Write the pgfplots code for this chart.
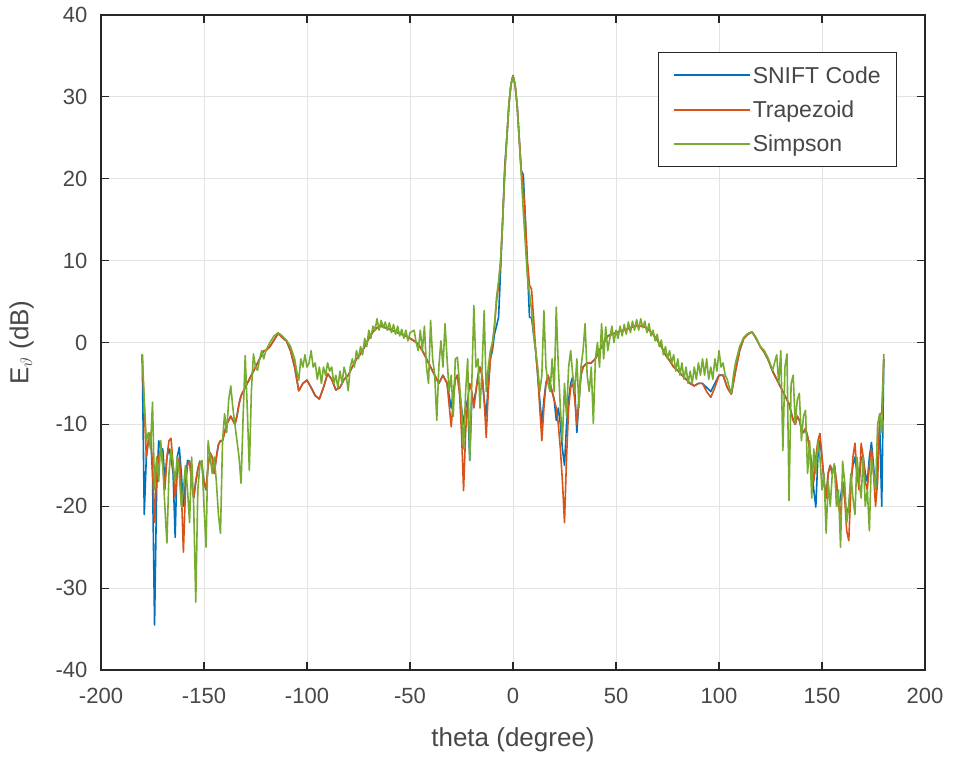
\documentclass[border=0pt]{standalone}
\usepackage{pgfplots}
\pgfplotsset{compat=1.18}
\usepackage{fontspec}
\setmainfont{Liberation Sans}
\definecolor{mblue}{rgb}{0,0.447,0.741}
\definecolor{morange}{rgb}{0.85,0.325,0.098}
\definecolor{mgreen}{rgb}{0.466,0.674,0.188}
\definecolor{axgray}{rgb}{0.15,0.15,0.15}
\begin{document}
\begin{tikzpicture}
\begin{axis}[
  scale only axis,
  width=824pt, height=655pt,
  xmin=-200, xmax=200, ymin=-40, ymax=40,
  xtick={-200,-150,...,200},
  ytick={-40,-30,...,40},
  grid=major,
  major grid style={gray!22, line width=0.8pt},
  axis line style={axgray, line width=1.2pt},
  tick style={axgray, line width=1.2pt},
  major tick length=8pt,
  tick align=inside,
  /pgf/number format/assume math mode=true,
  ticklabel style={font=\fontsize{22}{26}\selectfont, text=axgray!85},
  xticklabel style={yshift=-15pt},
  yticklabel style={xshift=-10pt},
  label style={font=\fontsize{26}{30}\selectfont, text=axgray!85},
  xlabel={theta (degree)},
  ylabel={E$_{\vartheta}$ (dB)},
  xlabel style={yshift=-17pt},
  ylabel style={yshift=15pt},
  legend style={at={(1,1)}, anchor=north east, xshift=-28pt, yshift=-37pt,
    font=\fontsize{23}{27}\selectfont, draw=axgray, thick,
    inner xsep=14pt, inner ysep=12pt, row sep=12pt, text=axgray!85, cells={anchor=west}},
  legend image code/.code={\draw[#1, line width=2pt] (0pt,0pt) -- (76pt,0pt);},
  every axis plot/.append style={line width=1.6pt, line join=round},
]
\addplot[mblue] coordinates {
(-180,-1.5)(-179,-21)(-178,-14)(-177,-12)(-176,-11)(-175,-16)(-174,-34.5)(-173,-18)(-172,-12)(-171,-13)(-170,-13)(-169,-17)(-168,-14)(-167,-13)(-166,-14)(-165,-16)(-164,-23.8)(-163,-14)(-162,-12.8)(-161,-16)(-160,-20)(-159,-17)(-158,-14.4)(-157,-14.5)(-156,-17)(-155,-19)(-154,-17)(-153,-15.5)(-152,-14.5)(-151,-15)(-150,-17)(-149,-18)(-148,-15)(-147,-13.5)(-146,-14)(-145,-16)(-144,-14)(-143,-12.5)(-142,-12)(-141,-12)(-140,-11)(-139,-10)(-138,-9.5)(-137,-9)(-136,-9.5)(-135,-10)(-134,-9)(-133,-7.5)(-132,-6.5)(-131,-6)(-130,-5.5)(-129,-5)(-128,-4.5)(-127,-4)(-126,-3.5)(-125,-3)(-124,-2.5)(-123,-2)(-122,-1.5)(-121,-1)(-120,-1)(-118,-0.5)(-116,0.3)(-114,1.1)(-112,0.6)(-110,0.2)(-108,-1)(-106,-3)(-104,-5.9)(-102,-5)(-100,-4.6)(-98,-5.5)(-96,-6.5)(-94,-6.9)(-92,-5.5)(-90,-3.8)(-88,-4.5)(-86,-5.8)(-84,-5.5)(-82,-4.5)(-80,-4)(-78,-3)(-76,-2)(-74,-1.4)(-72,-0.5)(-70,0.5)(-68,1.3)(-66,1.8)(-64,2)(-62,1.8)(-60,1.6)(-58,1.4)(-56,1.2)(-54,1)(-52,0.8)(-50,0.5)(-48,0.2)(-46,-0.2)(-44,-1)(-42,-2)(-40,-3)(-38,-4)(-36,-5)(-34,-4)(-32,-5)(-30,-8)(-29,-6)(-28,-4.5)(-27,-4)(-26,-6)(-25,-8)(-24,-10)(-23,-8)(-22,-7)(-21,-14.4)(-20,-7)(-19,-7)(-18,-6)(-17,-4)(-16,-3)(-15,-4)(-14,-7)(-13,-9)(-12,-5)(-11,-2)(-10,-1)(-9,1)(-8,2)(-7,3.1)(-6,9)(-5,15)(-4,21.5)(-3,25)(-2,29)(-1,31.5)(0,32.6)(1,31.5)(2,29)(3,25)(4,21)(5,20.5)(6,15)(7,9)(8,3.1)(9,3)(10,1)(11,-1)(12,-4)(13,-7)(14,-10)(15,-7)(16,-5)(17,-4)(18,-5)(19,-6)(20,-7)(21,-9.5)(22,-8)(23,-10)(24,-13)(25,-15)(26,-10)(27,-7)(28,-5)(29,-4.2)(30,-6)(31,-11)(32,-7)(33,-4)(34,-3)(36,-2.5)(38,-2.5)(40,-2)(42,-1)(44,0)(46,0.8)(48,1)(50,1.2)(52,1.4)(54,1.5)(56,1.7)(58,1.9)(60,2)(62,2)(64,1.9)(66,1.5)(68,1)(70,0.3)(72,-0.5)(74,-1.5)(76,-2.2)(78,-3)(80,-3.4)(82,-4)(84,-4.5)(86,-5)(88,-5.3)(90,-5)(92,-5)(94,-5.5)(96,-6)(98,-5)(100,-4)(102,-4)(104,-5.5)(106,-6.3)(108,-3.5)(110,-1)(112,0.5)(114,1)(116,1.3)(118,0.5)(120,-0.5)(122,-1.2)(124,-2.2)(126,-3.5)(128,-4.5)(130,-5.5)(132,-6.5)(134,-7.5)(136,-9.5)(137,-10)(138,-9)(139,-9.5)(140,-10.5)(141,-11)(142,-10.5)(143,-11.5)(144,-13)(145,-15)(146,-18)(147,-20.1)(148,-14)(149,-12)(150,-14)(151,-17)(152,-19)(153,-16)(154,-15)(155,-16)(156,-15)(157,-17)(158,-20)(159,-19)(160,-17)(161,-19)(162,-21)(163,-20)(164,-17)(165,-15)(166,-14)(167,-16)(168,-17)(169,-14)(170,-14)(171,-16)(172,-17)(173,-14)(174,-12.2)(175,-15)(176,-18)(177,-15)(178,-10)(179,-20)(180,-2)
};
\addlegendentry{SNIFT Code}
\addplot[morange] coordinates {
(-180,-1.5)(-179,-8)(-178,-14)(-177,-12)(-176,-11)(-175,-15)(-174,-22)(-173,-16)(-172,-14)(-171,-13)(-170,-15)(-169,-18)(-168,-14)(-167,-12)(-166,-11.7)(-165,-15)(-164,-19)(-163,-16)(-162,-14)(-161,-18)(-160,-25.6)(-159,-18)(-158,-15)(-157,-14.5)(-156,-17)(-155,-19)(-154,-17)(-153,-15.5)(-152,-14.5)(-151,-15)(-150,-17)(-149,-18)(-148,-15)(-147,-13.5)(-146,-14)(-145,-16)(-144,-14)(-143,-12.5)(-142,-12)(-141,-12)(-140,-11)(-139,-10)(-138,-9.5)(-137,-9)(-136,-9.5)(-135,-10)(-134,-9)(-133,-7.5)(-132,-6.5)(-131,-6)(-130,-5.5)(-129,-5)(-128,-4.5)(-127,-4)(-126,-3.5)(-125,-3)(-124,-2.5)(-123,-2)(-122,-1.5)(-121,-1)(-120,-1)(-118,-0.5)(-116,0.3)(-114,1.1)(-112,0.6)(-110,0.2)(-108,-1)(-106,-3)(-104,-5.9)(-102,-5)(-100,-4.6)(-98,-5.5)(-96,-6.5)(-94,-6.9)(-92,-5.5)(-90,-3.8)(-88,-4.5)(-86,-5.8)(-84,-5.5)(-82,-4.5)(-80,-4)(-78,-3)(-76,-2)(-74,-1.4)(-72,-0.5)(-70,0.5)(-68,1.3)(-66,1.8)(-64,2)(-62,1.8)(-60,1.6)(-58,1.4)(-56,1.2)(-54,1)(-52,0.8)(-50,0.5)(-48,0.2)(-46,-0.2)(-44,-1)(-42,-2)(-40,-3)(-38,-4)(-36,-5)(-34,-4)(-32,-5)(-30,-10.3)(-29,-7)(-28,-4.5)(-27,-4)(-26,-6)(-25,-11)(-24,-18.1)(-23,-11)(-22,-7)(-21,-5)(-20,-6)(-19,-8)(-18,-6)(-17,-4)(-16,-3)(-15,-4)(-14,-7)(-13,-11.6)(-12,-6)(-11,-2)(-10,-0.5)(-9,2)(-8,5)(-7,7)(-6,10)(-5,15)(-4,21)(-3,25)(-2,29)(-1,31.5)(0,32.6)(1,31.5)(2,29)(3,25)(4,21)(5,19)(6,15)(7,10)(8,7)(9,6.5)(10,3)(11,-1)(12,-4)(13,-8)(14,-12)(15,-8)(16,-5)(17,-4)(18,-5)(19,-6)(20,-7)(21,-8)(22,-10)(23,-13)(24,-17)(25,-22)(26,-14)(27,-8)(28,-5.5)(29,-5)(30,-7)(31,-10)(32,-7)(33,-4)(34,-3)(36,-2.5)(38,-2.5)(40,-2)(42,-1)(44,0)(46,0.8)(48,1)(50,1.2)(52,1.4)(54,1.5)(56,1.7)(58,1.9)(60,2)(62,2)(64,1.9)(66,1.5)(68,1)(70,0.3)(72,-0.5)(74,-1.5)(76,-2.2)(78,-3)(80,-3.4)(82,-4)(84,-4.5)(86,-5)(88,-5.3)(90,-5)(92,-5)(94,-6)(96,-6.7)(98,-5.5)(100,-4)(102,-4)(104,-5.5)(106,-6.3)(108,-3.5)(110,-1)(112,0.5)(114,1)(116,1.3)(118,0.5)(120,-0.5)(122,-1.2)(124,-2.2)(126,-3.5)(128,-4.5)(130,-5.5)(132,-6.5)(134,-7.5)(136,-9.5)(137,-10)(138,-9)(139,-9.5)(140,-10.5)(141,-11)(142,-10.5)(143,-11.5)(144,-13)(145,-15)(146,-17)(147,-14)(148,-12)(149,-11.1)(150,-14)(151,-17)(152,-19)(153,-16)(154,-15)(155,-16)(156,-15)(157,-17)(158,-20)(159,-21)(160,-17)(161,-19)(162,-23)(163,-24.2)(164,-18)(165,-14)(166,-12.3)(167,-16)(168,-18)(169,-12.3)(170,-14)(171,-17)(172,-18)(173,-15)(174,-13)(175,-16)(176,-20)(177,-17)(178,-9)(179,-8.5)(180,-2)
};
\addlegendentry{Trapezoid}
\addplot[mgreen] coordinates {
(-180,-1.4)(-179,-7)(-178,-12)(-177,-11)(-176,-13)(-175,-7.3)(-174,-18)(-173,-14)(-172,-17)(-171,-12)(-170,-15)(-169,-20)(-168,-24.5)(-167,-16)(-166,-13)(-165,-15)(-164,-17)(-163,-14)(-162,-16)(-161,-20)(-160,-18)(-159,-15)(-158,-18)(-157,-22)(-156,-14)(-155,-20)(-154,-31.7)(-153,-18)(-152,-15)(-151,-14.4)(-150,-20)(-149,-25)(-148,-12)(-147,-14)(-146,-16)(-145,-14)(-144,-17)(-143,-21)(-142,-23.3)(-141,-12)(-140,-8.7)(-139,-11)(-138,-7)(-137,-5.3)(-136,-8)(-135,-10)(-134,-12)(-133,-14)(-132,-17.2)(-131,-9)(-130,-1.6)(-129,-8)(-128,-15.6)(-127,-6)(-126,-1.4)(-125,-3)(-124,-3.4)(-123,-2)(-122,-1)(-121,-2)(-120,-1)(-118,0)(-116,0.8)(-114,1.2)(-112,0.8)(-110,0.3)(-108,-0.5)(-106,-2)(-105,-3.5)(-104,-4.6)(-103,-2)(-102,-3)(-101,-1.5)(-100,-3)(-99,-2.5)(-98,-1)(-97,-3)(-96,-2.5)(-95,-4.5)(-94,-3)(-93,-5)(-92,-3)(-91,-4)(-90,-2.5)(-89,-3.5)(-88,-3)(-87,-5)(-86,-4)(-85,-5.5)(-84,-3.5)(-83,-5)(-82,-3)(-81,-4)(-80,-5.9)(-79,-3)(-78,-2)(-77,-3)(-76,-1)(-75,-2)(-74,-0.5)(-73,-1.5)(-72,0.5)(-71,-0.5)(-70,1.5)(-69,0.5)(-68,2)(-67,1.5)(-66,2.9)(-65,1.5)(-64,2.7)(-63,1.8)(-62,2.5)(-61,1.5)(-60,2.4)(-59,1.2)(-58,2.2)(-57,1)(-56,2)(-55,0.8)(-54,1.6)(-53,0.5)(-52,1.5)(-51,0.2)(-50,1.2)(-48,1.5)(-47,0)(-46,-1)(-45,1.5)(-44,-1)(-43,2)(-42,-3)(-41,-5)(-40,2.7)(-39,-2)(-38,-4)(-37,-9.5)(-36,-3)(-35,0.2)(-34,-3)(-33,2.3)(-32,-2)(-31,-6)(-30,-4)(-29,-9)(-28,-2)(-27,-1.8)(-26,-5)(-25,-8)(-24,-13)(-23,-6)(-22,-2)(-21,-14.4)(-20,-5)(-19,4.5)(-18,-3)(-17,-2)(-16,-8)(-15,-3)(-14,3.9)(-13,-6)(-12,-3)(-11,-1)(-10,0)(-9,2)(-8,5.5)(-7,7.5)(-6,10)(-5,15)(-4,20.5)(-3,25)(-2,29)(-1,31.5)(0,32.5)(1,31.5)(2,29)(3,25)(4,20.5)(5,16)(6,12)(7,8)(8,6)(9,4)(10,1)(11,-1)(12,-3)(13,-6)(14,-4)(15,3.9)(16,-3)(17,-5)(18,-6)(19,-2)(20,-6)(21,4.3)(22,-3)(23,-8)(24,-12)(25,-5)(26,-9)(27,-3)(28,-1)(29,-4)(30,-6)(31,-2)(32,-8)(33,-3)(34,-1)(35,2.3)(36,-4)(37,-6)(38,-3)(39,-9.9)(40,-2)(41,0)(42,-3)(43,2.3)(44,-2)(45,1.9)(46,-1)(47,0.5)(48,2)(49,0)(50,1.5)(51,0.5)(52,2)(53,0.8)(54,2.2)(55,1)(56,2.5)(57,1.2)(58,2.6)(59,1.5)(60,2.8)(61,1.5)(62,2.9)(63,1.8)(64,2.6)(65,1.2)(66,2.3)(67,0.8)(68,1.5)(69,0.2)(70,1)(71,-0.5)(72,0.3)(73,-1.5)(74,-0.5)(75,-2)(76,-1)(77,-2.5)(78,-1.5)(79,-3.5)(80,-2)(81,-4)(82,-2.5)(83,-4.5)(84,-3)(85,-5)(86,-3.5)(87,-5)(88,-3)(89,-4.5)(90,-2.5)(91,-4)(92,-2)(93,-4)(94,-2)(95,-4.5)(96,-3)(97,-4.5)(98,-2)(99,-3.5)(100,-1)(101,-3)(102,-2.5)(103,-4)(104,-4.5)(105,-5.5)(106,-6.2)(107,-4)(108,-2.5)(109,-1.5)(110,-0.5)(112,0.6)(114,1.1)(116,1.3)(118,0.6)(120,-0.5)(122,-1)(124,-2)(126,-3.4)(128,-1.5)(129,-5)(130,-1)(131,-13.2)(132,-3)(133,-1.4)(134,-19.3)(135,-5)(136,-4)(137,-9.9)(138,-7)(139,-6.2)(140,-12)(141,-9)(142,-8.3)(143,-16)(144,-12)(145,-19)(146,-13)(147,-16)(148,-12)(149,-14)(150,-18)(151,-16)(152,-23.3)(153,-17)(154,-20)(155,-16)(156,-14.8)(157,-20)(158,-18)(159,-25)(160,-14.5)(161,-17)(162,-22)(163,-20)(164,-16)(165,-19)(166,-21)(167,-14)(168,-17)(169,-19)(170,-14)(171,-20)(172,-18)(173,-23)(174,-14)(175,-16)(176,-18)(177,-10)(178,-8.7)(179,-11)(180,-1.4)
};
\addlegendentry{Simpson}
\end{axis}
\pgfresetboundingbox
\path (current axis.south west) +(-101pt,-87pt) (current axis.north east) +(30pt,15pt);
\end{tikzpicture}
\end{document}
